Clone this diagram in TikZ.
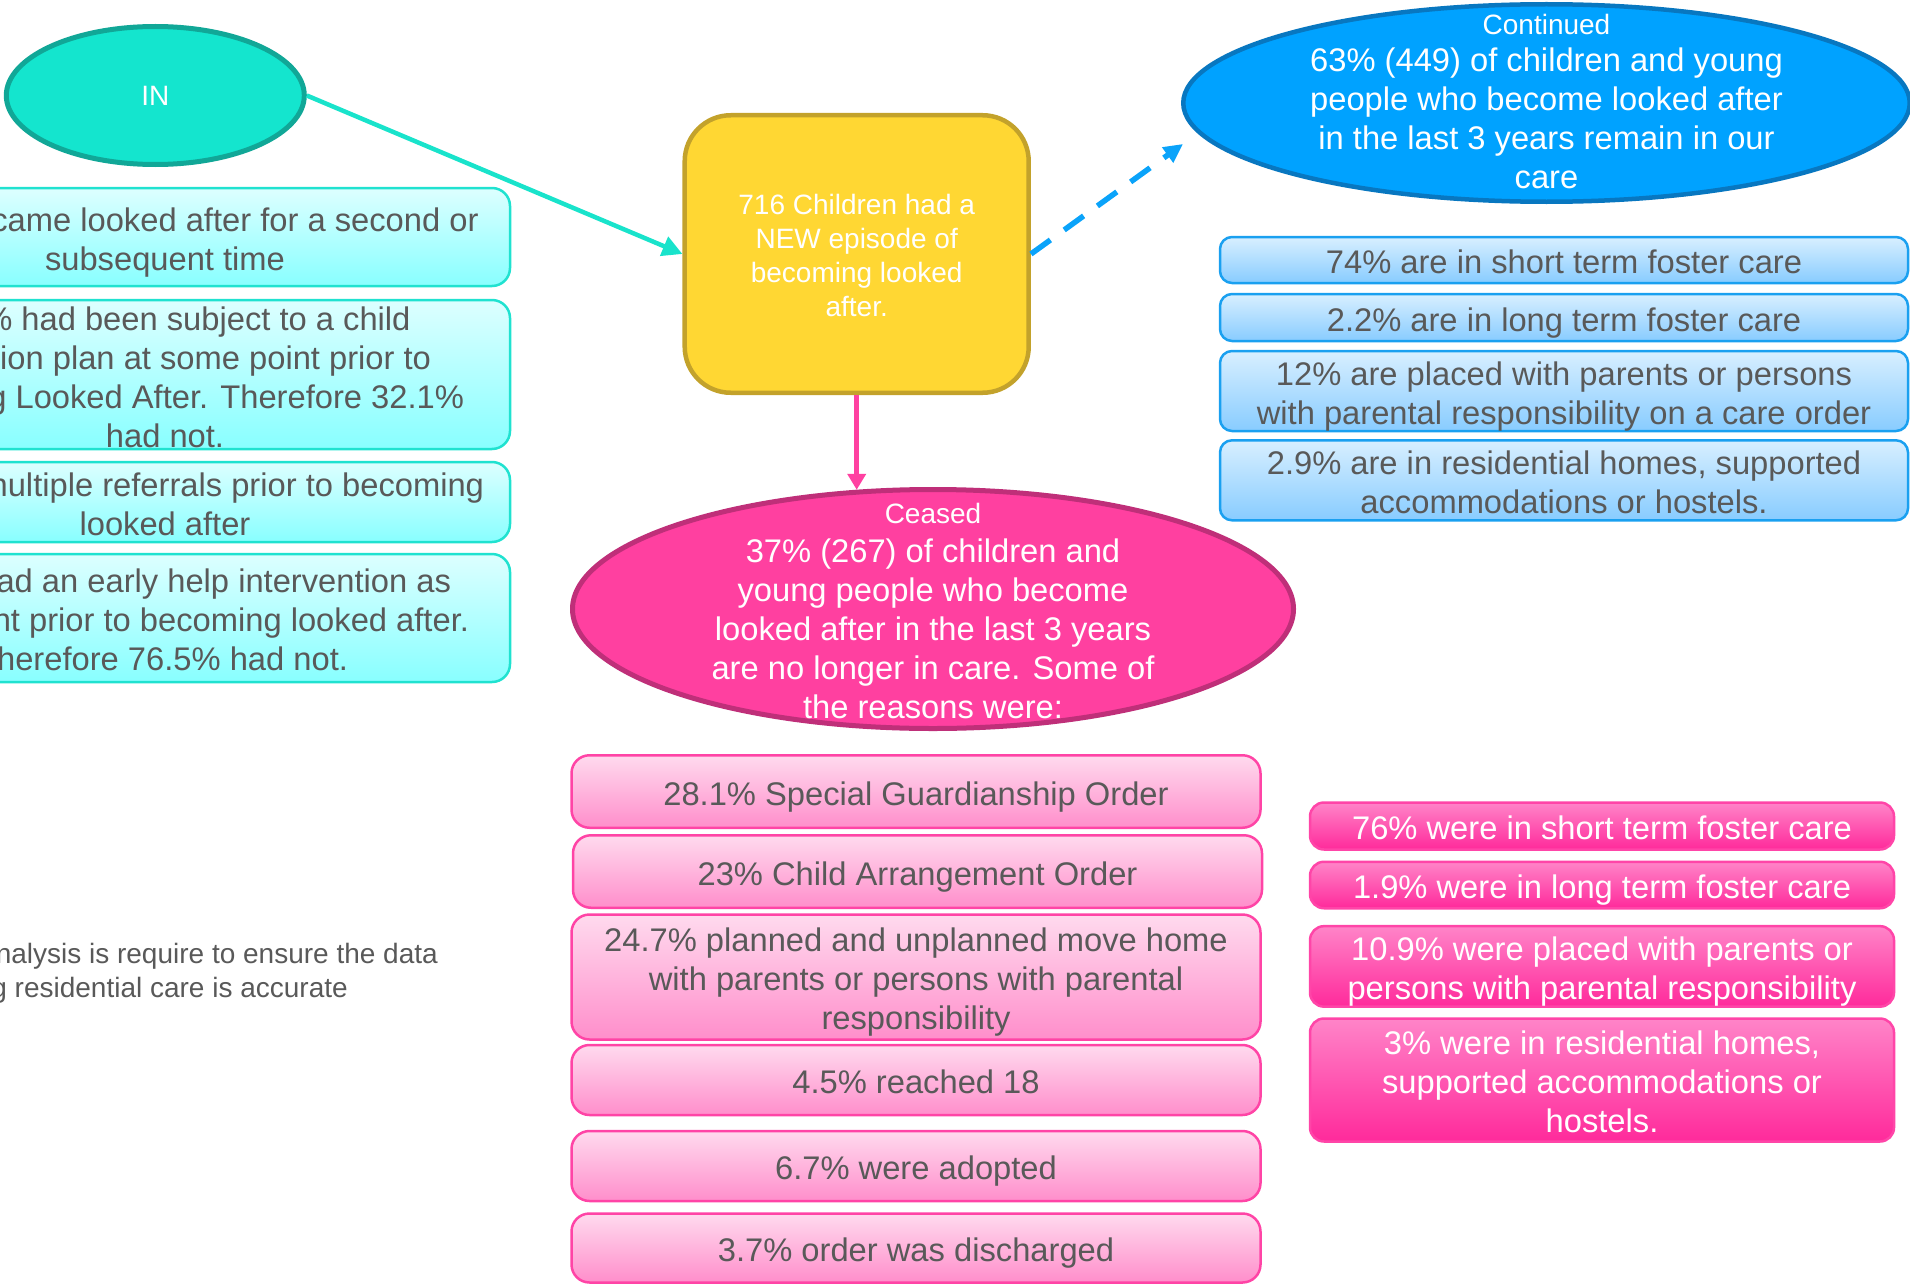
\documentclass[tikz,border=0pt]{standalone}
\usepackage{fontspec}
\setmainfont{Liberation Sans}
\usetikzlibrary{shapes.geometric,arrows.meta}
\definecolor{txtgray}{HTML}{595959}
\definecolor{infill}{HTML}{14E5CE}
\definecolor{inborder}{HTML}{11A797}
\definecolor{cyanborder}{HTML}{20E2D0}
\definecolor{cyantop}{HTML}{DDFFFF}
\definecolor{cyanbot}{HTML}{88FFFF}
\definecolor{yfill}{HTML}{FFD733}
\definecolor{yborder}{HTML}{C3A22B}
\definecolor{bfill}{HTML}{00A2FF}
\definecolor{bborder}{HTML}{0877C0}
\definecolor{bbxborder}{HTML}{1AA0F0}
\definecolor{bbxtop}{HTML}{D8EFFF}
\definecolor{bbxbot}{HTML}{88CCFF}
\definecolor{pfill}{HTML}{FF40A0}
\definecolor{pborder}{HTML}{BF2F79}
\definecolor{pinkborder}{HTML}{FF44A6}
\definecolor{pinktop}{HTML}{FFDAEE}
\definecolor{pinkbot}{HTML}{FF8ECB}
\definecolor{hotborder}{HTML}{FF45A8}
\definecolor{hottop}{HTML}{FF84C8}
\definecolor{hotbot}{HTML}{FF2A9B}
\definecolor{tealarrow}{HTML}{19E3CB}
\definecolor{bluearrow}{HTML}{0AA3FA}
\definecolor{pinkarrow}{HTML}{FF41A1}
\newcommand\cutln[2]{\makebox[#1pt][r]{#2}}
\newcommand\ft{\rule{0pt}{34pt}}
\newcommand\lb{\rule[-7pt]{0pt}{7pt}}
\begin{document}
\begin{tikzpicture}[x=1pt,y=-1pt,
  bigfont/.style={font=\fontsize{32.7}{39}\selectfont},
  smallfont/.style={font=\fontsize{28}{34}\selectfont},
  cyanbox/.style={draw=cyanborder, line width=2.5pt, rounded corners=18pt, top color=cyantop, bottom color=cyanbot, text=txtgray, align=center, inner sep=0pt, bigfont, minimum width=690pt},
  bluebox/.style={draw=bbxborder, line width=2.5pt, rounded corners=12pt, top color=bbxtop, bottom color=bbxbot, text=txtgray, align=center, inner sep=0pt, bigfont, minimum width=688pt},
  pinkbox/.style={draw=pinkborder, line width=2.5pt, rounded corners=18pt, top color=pinktop, bottom color=pinkbot, text=txtgray, align=center, inner sep=0pt, bigfont, minimum width=689pt},
  hotbox/.style={draw=hotborder, line width=2.5pt, rounded corners=14pt, top color=hottop, bottom color=hotbot, text=white, align=center, inner sep=0pt, bigfont, minimum width=584pt},
  ovaltext/.style={text=white, align=center, inner sep=0pt, bigfont},
]
\useasboundingbox (0,0) rectangle (1910,1287);

% IN ellipse
\node[draw=inborder, line width=5pt, fill=infill, ellipse, minimum width=298pt, minimum height=138pt, inner sep=0pt, text=white, smallfont] (in) at (155.3,95.5) {IN};

% cyan boxes
\node[cyanbox, minimum height=98pt] (c1) at (165,237) {\ft\cutln{627}{came looked after for a second or}\\subsequent time\lb};
\node[cyanbox, minimum height=149pt] (c2) at (165,374.5) {\rule{0pt}{29pt}\cutln{491}{\% had been subject to a child}\\\cutln{532}{ion plan at some point prior to}\\\cutln{598}{g Looked After. Therefore 32.1\%}\\had not.};
\node[cyanbox, minimum height=76pt] (c3) at (165,502) {\ft\cutln{638}{nultiple referrals prior to becoming}\\looked after\lb};
\node[cyanbox, minimum height=128pt] (c4) at (165,618) {\ft\cutln{572}{ad an early help intervention as}\\\cutln{608}{nt prior to becoming looked after.}\\\cutln{366}{herefore 76.5\% had not.}\lb};

% note
\node[anchor=east, align=right, text=txtgray, font=\fontsize{28}{34}\selectfont, inner sep=0pt] (note) at (438,973) {nalysis is require to ensure the data\\g residential care is accurate\hspace*{90pt}};

% yellow box
\node[draw=yborder, line width=4.5pt, fill=yfill, rounded corners=46pt, minimum width=344pt, minimum height=277.5pt, inner sep=0pt, text=white, align=center, smallfont] (new) at (856.7,254) {\rule{0pt}{23pt}716 Children had a\\NEW episode of\\becoming looked\\after.};

% continued ellipse
\node[draw=bborder, line width=4.5pt, fill=bfill, ellipse, minimum width=726.5pt, minimum height=197.5pt, inner sep=0pt] (cont) at (1546.5,103) {};
\node[ovaltext, yshift=1pt] (contT) at (cont.center) {{\fontsize{28}{34}\selectfont Continued}\\[-2pt]63\% (449) of children and young\\people who become looked after\\in the last 3 years remain in our\\care};

% blue boxes
\node[bluebox, minimum height=46pt] (b1) at (1564,260) {\ft 74\% are in short term foster care\lb};
\node[bluebox, minimum height=47pt] (b2) at (1564,317.5) {\ft 2.2\% are in long term foster care\lb};
\node[bluebox, minimum height=80pt] (b3) at (1564,391) {\ft 12\% are placed with parents or persons\\with parental responsibility on a care order\lb};
\node[bluebox, minimum height=80pt] (b4) at (1564,480.3) {\ft 2.9\% are in residential homes, supported\\accommodations or hostels.\lb};

% ceased ellipse
\node[draw=pborder, line width=5pt, fill=pfill, ellipse, minimum width=721pt, minimum height=239pt, inner sep=0pt] (ceased) at (933,609) {};
\node[ovaltext, yshift=-1.8pt] (ceasedT) at (ceased.center) {{\fontsize{28}{34}\selectfont Ceased}\\[-0.5pt]37\% (267) of children and\\young people who become\\looked after in the last 3 years\\are no longer in care. Some of\\the reasons were:};

% pink boxes
\node[pinkbox, minimum height=72.5pt] (p1) at (916,791.5) {\ft 28.1\% Special Guardianship Order\lb};
\node[pinkbox, minimum height=72.5pt] (p2) at (917.5,871.5) {\ft 23\% Child Arrangement Order\lb};
\node[pinkbox, minimum height=125pt] (p3) at (916,977) {\ft 24.7\% planned and unplanned move home\\with parents or persons with parental\\responsibility\lb};
\node[pinkbox, minimum height=70pt] (p4) at (916,1080) {\ft 4.5\% reached 18\lb};
\node[pinkbox, minimum height=70pt] (p5) at (916,1166) {\ft 6.7\% were adopted\lb};
\node[pinkbox, minimum height=69pt] (p6) at (916,1248) {\ft 3.7\% order was discharged\lb};

% hot pink boxes
\node[hotbox, minimum height=47pt] (h1) at (1602,826) {\ft 76\% were in short term foster care\lb};
\node[hotbox, minimum height=46.5pt] (h2) at (1602,885) {\ft 1.9\% were in long term foster care\lb};
\node[hotbox, minimum height=80.5pt] (h3) at (1602,966.4) {\ft 10.9\% were placed with parents or\\persons with parental responsibility\lb};
\node[hotbox, minimum height=123pt] (h4) at (1602,1080) {\ft 3\% were in residential homes,\\supported accommodations or\\hostels.\lb};

% connectors
\coordinate (contTip) at (1183,144);
\draw[tealarrow, line width=4.5pt, -{Triangle[length=20pt,width=20pt]}] (in.east) -- (new.west);
\draw[bluearrow, line width=5.5pt, dash pattern=on 24pt off 17pt, -{Triangle[length=19pt,width=18pt]}] (new.east) -- (contTip);
\draw[pinkarrow, line width=5.3pt, -{Triangle[length=16pt,width=18pt]}] (new.south) -- (new.south |- ceased.123);
\end{tikzpicture}
\end{document}
